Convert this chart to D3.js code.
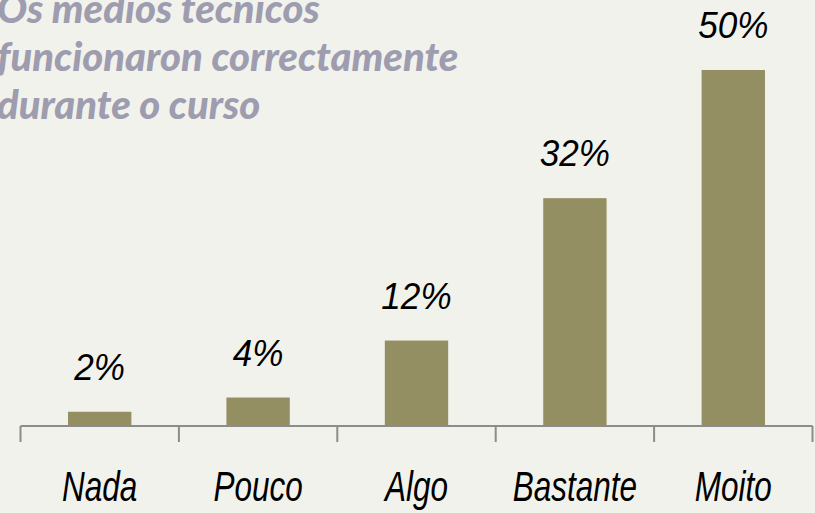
<!DOCTYPE html>
<html>
<head>
<meta charset="utf-8">
<script src="https://cdn.jsdelivr.net/npm/d3@7"></script>
<style>
  body { margin: 0; background: #f2f2ec; }
  svg { display: block; }
</style>
</head>
<body>
<svg></svg>
<script>
var categories = ["Nada", "Pouco", "Algo", "Bastante", "Moito"];
var values = [2, 4, 12, 32, 50];
var titleLines = ["Os medios tecnicos", "funcionaron correctamente", "durante o curso"];

var svgWidth = 815, svgHeight = 513;
var axisLeft = 20.5, axisRight = 812.5, axisY = 426;

var svg = d3.select("svg")
    .attr("width", svgWidth)
    .attr("height", svgHeight);

svg.append("rect")
    .attr("width", svgWidth)
    .attr("height", svgHeight)
    .attr("fill", "#f2f2ec");

// band scale across the axis, bars take ~40% of each band
var x = d3.scaleBand()
    .domain(categories)
    .range([axisLeft, axisRight])
    .paddingInner(0.6)
    .paddingOuter(0.3);

var y = d3.scaleLinear()
    .domain([0, 50])
    .range([axisY, 70]);

// title (cropped at the top-left like the original)
var title = svg.append("text")
    .attr("y", 23)
    .attr("fill", "#9e9db0")
    .style("font-family", "Lato")
    .style("font-weight", "900")
    .style("font-style", "italic")
    .style("font-size", "40px");

title.selectAll("tspan")
    .data(titleLines)
    .enter()
    .append("tspan")
    .attr("x", -3)
    .attr("dy", function(d, i) { return i === 0 ? 0 : 48; })
    .text(function(d) { return d; });

// bars
svg.selectAll(".bar")
    .data(values)
    .enter()
    .append("rect")
    .attr("class", "bar")
    .attr("x", function(d, i) { return x(categories[i]); })
    .attr("y", function(d) { return y(d); })
    .attr("width", x.bandwidth())
    .attr("height", function(d) { return axisY - y(d); })
    .attr("fill", "#938f63");

// axis line and ticks at band boundaries
var tickXs = d3.range(categories.length + 1).map(function(i) {
    return axisLeft + i * (axisRight - axisLeft) / categories.length;
});

svg.append("line")
    .attr("x1", axisLeft).attr("x2", axisRight)
    .attr("y1", axisY).attr("y2", axisY)
    .attr("stroke", "#8c8c8c")
    .attr("stroke-width", 2);

svg.selectAll(".tick")
    .data(tickXs)
    .enter()
    .append("line")
    .attr("x1", function(d) { return d; })
    .attr("x2", function(d) { return d; })
    .attr("y1", axisY)
    .attr("y2", axisY + 16)
    .attr("stroke", "#8c8c8c")
    .attr("stroke-width", 2);

// value labels
svg.selectAll(".val")
    .data(values)
    .enter()
    .append("text")
    .attr("transform", function(d, i) {
        return "translate(" + (x(categories[i]) + x.bandwidth() / 2) + "," + (y(d) - 32) + ") scale(0.95,1)";
    })
    .attr("text-anchor", "middle")
    .style("font-family", "Liberation Sans")
    .style("font-style", "italic")
    .style("font-size", "37px")
    .attr("fill", "#000")
    .text(function(d) { return d + "%"; });

// category labels
svg.selectAll(".cat")
    .data(categories)
    .enter()
    .append("text")
    .attr("transform", function(d) {
        return "translate(" + (x(d) + x.bandwidth() / 2) + ",501) scale(0.75,1)";
    })
    .attr("text-anchor", "middle")
    .style("font-family", "Liberation Sans")
    .style("font-style", "italic")
    .style("font-size", "42px")
    .attr("fill", "#000")
    .text(function(d) { return d; });
</script>
</body>
</html>
